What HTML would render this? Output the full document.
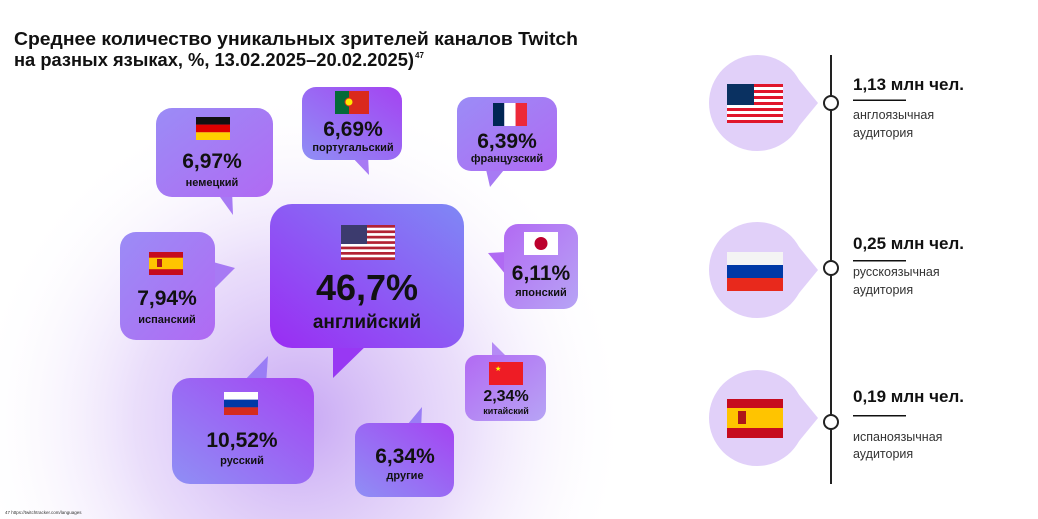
<!DOCTYPE html>
<html><head><meta charset="utf-8"><style>
html,body{margin:0;padding:0;background:#fff;}
svg{display:block;font-family:"Liberation Sans","DejaVu Sans",sans-serif;}
</style></head><body>
<svg width="1038" height="519" viewBox="0 0 1038 519" xmlns="http://www.w3.org/2000/svg">
<defs>
<radialGradient id="haze" cx="300" cy="420" r="330" gradientUnits="userSpaceOnUse">
<stop offset="0" stop-color="#b58af0" stop-opacity="0.75"/>
<stop offset="0.5" stop-color="#d9c3f7" stop-opacity="0.55"/>
<stop offset="1" stop-color="#ffffff" stop-opacity="0"/>
</radialGradient>
<linearGradient id="g1" x1="0" y1="0" x2="1" y2="1">
<stop offset="0" stop-color="#9b8cf6"/><stop offset="1" stop-color="#b06af3"/>
</linearGradient>
<linearGradient id="g2" x1="0" y1="1" x2="1" y2="0">
<stop offset="0" stop-color="#9a2cf3"/><stop offset="1" stop-color="#7f88f5"/>
</linearGradient>
<linearGradient id="g3" x1="0" y1="1" x2="1" y2="0">
<stop offset="0" stop-color="#8f8ff5"/><stop offset="1" stop-color="#a443f2"/>
</linearGradient>
<linearGradient id="gjp" x1="0" y1="0" x2="1" y2="1">
<stop offset="0" stop-color="#b26af3"/><stop offset="1" stop-color="#b7a4f5"/>
</linearGradient>
</defs>
<rect width="1038" height="519" fill="#fff"/>
<rect width="700" height="519" fill="url(#haze)"/>

<text x="14" y="45" font-size="18.5" font-weight="bold" fill="#111" textLength="564" lengthAdjust="spacingAndGlyphs">Среднее количество уникальных зрителей каналов Twitch</text>
<text x="14" y="66" font-size="18.5" font-weight="bold" fill="#111" textLength="400" lengthAdjust="spacingAndGlyphs">на разных языках, %, 13.02.2025–20.02.2025)</text>
<text x="415" y="58" font-size="8" font-weight="bold" fill="#111">47</text>

<!-- German -->
<path d="M215 190 L233 215 L232 190 Z" fill="#a77af4"/>
<rect x="156" y="108" width="117" height="89" rx="16" fill="url(#g1)"/>
<rect x="196" y="117" width="34" height="7.7" fill="#111"/><rect x="196" y="124.6" width="34" height="7.7" fill="#dd0000"/><rect x="196" y="132.3" width="34" height="7.7" fill="#ffce00"/>
<text x="212" y="168" font-size="21" font-weight="bold" text-anchor="middle" fill="#111">6,97%</text>
<text x="212" y="186" font-size="11" font-weight="bold" text-anchor="middle" fill="#111">немецкий</text>

<!-- Portuguese -->
<path d="M350 155 L369 175 L368 155 Z" fill="#a77af4"/>
<rect x="302" y="87" width="100" height="73" rx="14" fill="url(#g3)"/>
<rect x="335" y="91" width="14" height="23" fill="#046a38"/><rect x="349" y="91" width="20" height="23" fill="#da291c"/><circle cx="349" cy="102" r="4" fill="#ffe900" stroke="#da291c" stroke-width="1"/>
<text x="353" y="136" font-size="21" font-weight="bold" text-anchor="middle" fill="#111">6,69%</text>
<text x="353" y="151" font-size="11" font-weight="bold" text-anchor="middle" fill="#111">португальский</text>

<!-- French -->
<path d="M485 165 L490 187 L508 165 Z" fill="#a77af4"/>
<rect x="457" y="97" width="100" height="74" rx="14" fill="url(#g1)"/>
<rect x="493" y="103" width="11.3" height="23" fill="#002654"/><rect x="504.3" y="103" width="11.3" height="23" fill="#fff"/><rect x="515.6" y="103" width="11.4" height="23" fill="#ed2939"/>
<text x="507" y="148" font-size="21" font-weight="bold" text-anchor="middle" fill="#111">6,39%</text>
<text x="507" y="162" font-size="11" font-weight="bold" text-anchor="middle" fill="#111">французский</text>

<!-- Japan -->
<path d="M488 253 L506 252 L506 275 Z" fill="#b06af3"/>
<rect x="504" y="224" width="74" height="85" rx="14" fill="url(#gjp)"/>
<rect x="524" y="232" width="34" height="23" fill="#fff"/><circle cx="541" cy="243.5" r="6.5" fill="#bc002d"/>
<text x="541" y="280" font-size="21" font-weight="bold" text-anchor="middle" fill="#111">6,11%</text>
<text x="541" y="296" font-size="11" font-weight="bold" text-anchor="middle" fill="#111">японский</text>

<!-- Spain -->
<path d="M213 262 L235 268 L213 290 Z" fill="#a77af4"/>
<rect x="120" y="232" width="95" height="108" rx="16" fill="url(#g1)"/>
<rect x="149" y="252" width="34" height="23" fill="#c60b1e"/><rect x="149" y="257.7" width="34" height="11.5" fill="#ffc400"/><rect x="157" y="259" width="5" height="8" fill="#ad1519"/>
<text x="167" y="305" font-size="21" font-weight="bold" text-anchor="middle" fill="#111">7,94%</text>
<text x="167" y="323" font-size="11" font-weight="bold" text-anchor="middle" fill="#111">испанский</text>

<!-- English -->
<path d="M333 340 L333 378 L372 340 Z" fill="#9838f3"/>
<rect x="270" y="204" width="194" height="144" rx="22" fill="url(#g2)"/>
<g transform="translate(341,225)">
<rect width="54" height="35" fill="#fff"/>
<g fill="#b22234"><rect y="0" width="54" height="2.7"/><rect y="5.4" width="54" height="2.7"/><rect y="10.8" width="54" height="2.7"/><rect y="16.2" width="54" height="2.7"/><rect y="21.6" width="54" height="2.7"/><rect y="27" width="54" height="2.7"/><rect y="32.3" width="54" height="2.7"/></g>
<rect width="26" height="19" fill="#3c3b6e"/>
</g>
<text x="367" y="300" font-size="36" font-weight="bold" text-anchor="middle" fill="#111">46,7%</text>
<text x="367" y="328" font-size="19" font-weight="bold" text-anchor="middle" fill="#111">английский</text>

<!-- Russian -->
<path d="M240 385 L268 356 L266 385 Z" fill="#9a7df5"/>
<rect x="172" y="378" width="142" height="106" rx="18" fill="url(#g3)"/>
<rect x="224" y="392" width="34" height="7.7" fill="#fff"/><rect x="224" y="399.7" width="34" height="7.7" fill="#0039a6"/><rect x="224" y="407.3" width="34" height="7.7" fill="#d52b1e"/>
<text x="242" y="447" font-size="21" font-weight="bold" text-anchor="middle" fill="#111">10,52%</text>
<text x="242" y="464" font-size="11" font-weight="bold" text-anchor="middle" fill="#111">русский</text>

<!-- China -->
<path d="M492 342 L508 358 L492 358 Z" fill="#b58af5"/>
<rect x="465" y="355" width="81" height="66" rx="12" fill="url(#gjp)"/>
<rect x="489" y="362" width="34" height="23" fill="#ee1c25"/><text x="495" y="371" font-size="7" fill="#ffff00">★</text>
<text x="506" y="401" font-size="16" font-weight="bold" text-anchor="middle" fill="#111">2,34%</text>
<text x="506" y="414" font-size="9" font-weight="bold" text-anchor="middle" fill="#111">китайский</text>

<!-- Other -->
<path d="M403 430 L422 407 L421 430 Z" fill="#9a7df5"/>
<rect x="355" y="423" width="99" height="74" rx="14" fill="url(#g3)"/>
<text x="405" y="463" font-size="21" font-weight="bold" text-anchor="middle" fill="#111">6,34%</text>
<text x="405" y="479" font-size="11" font-weight="bold" text-anchor="middle" fill="#111">другие</text>

<text x="5" y="514" font-size="4.5" fill="#333">47 https://twitchtracker.com/languages</text>

<!-- Right timeline -->
<line x1="831" y1="55" x2="831" y2="484" stroke="#222" stroke-width="2"/>
<g fill="#e1d0f9">
<circle cx="757" cy="103" r="48"/><path d="M795 75 L818 103 L795 131 Z"/>
<circle cx="757" cy="270" r="48"/><path d="M795 242 L818 270 L795 298 Z"/>
<circle cx="757" cy="418" r="48"/><path d="M795 390 L818 418 L795 446 Z"/>
</g>
<g fill="#fff" stroke="#222" stroke-width="2">
<circle cx="831" cy="103" r="7"/><circle cx="831" cy="268" r="7"/><circle cx="831" cy="422" r="7"/>
</g>
<!-- US flag right -->
<g transform="translate(727,84)">
<rect width="56" height="39" fill="#fff"/>
<g fill="#e0162b"><rect y="0" width="56" height="3"/><rect y="6" width="56" height="3"/><rect y="12" width="56" height="3"/><rect y="18" width="56" height="3"/><rect y="24" width="56" height="3"/><rect y="30" width="56" height="3"/><rect y="36" width="56" height="3"/></g>
<rect width="27" height="21" fill="#0a3161"/>
</g>
<rect x="727" y="252" width="56" height="14" fill="#f4f4f4"/><rect x="727" y="265" width="56" height="13" fill="#0039a6"/><rect x="727" y="278" width="56" height="13" fill="#e8291c"/>
<rect x="727" y="399" width="56" height="39" fill="#c60b1e"/><rect x="727" y="408" width="56" height="20" fill="#ffc400"/><rect x="738" y="411" width="8" height="13" fill="#ad1519"/>

<g fill="#111">
<text x="853" y="90" font-size="17" font-weight="bold">1,13 млн чел.</text>
<rect x="853" y="99.5" width="53" height="1.5"/>
<text x="853" y="119" font-size="12.5" fill="#333">англоязычная</text>
<text x="853" y="137" font-size="12.5" fill="#333">аудитория</text>
<text x="853" y="249" font-size="17" font-weight="bold">0,25 млн чел.</text>
<rect x="853" y="260" width="53" height="1.5"/>
<text x="853" y="276" font-size="12.5" fill="#333">русскоязычная</text>
<text x="853" y="294" font-size="12.5" fill="#333">аудитория</text>
<text x="853" y="402" font-size="17" font-weight="bold">0,19 млн чел.</text>
<rect x="853" y="415" width="53" height="1.5"/>
<text x="853" y="441" font-size="12.5" fill="#333">испаноязычная</text>
<text x="853" y="458" font-size="12.5" fill="#333">аудитория</text>
</g>
</svg>
</body></html>
